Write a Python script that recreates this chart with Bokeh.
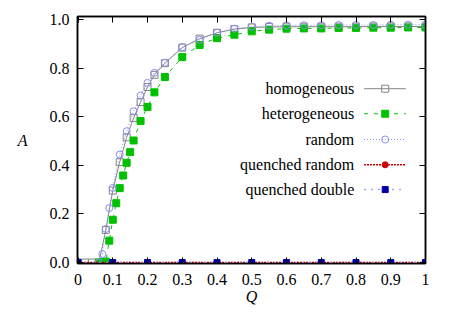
from bokeh.plotting import figure
from bokeh.models import Range1d, LinearAxis, FixedTicker
from bokeh.core.properties import value
from bokeh.embed import file_html
from bokeh.resources import INLINE

# ---------------- data ----------------
hom_q = [0.0, 0.02, 0.04, 0.06, 0.08, 0.10, 0.12, 0.14, 0.16, 0.18, 0.20, 0.22, 0.25,
         0.30, 0.35, 0.40, 0.45, 0.50, 0.55, 0.60, 0.65, 0.70, 0.75, 0.80, 0.85, 0.90, 0.95, 1.00]
hom_a = [0.0, 0.0, 0.0, 0.0, 0.134, 0.296, 0.413, 0.515, 0.595, 0.660, 0.722, 0.772, 0.820,
         0.884, 0.921, 0.945, 0.960, 0.967, 0.969, 0.970, 0.970, 0.970, 0.970, 0.970, 0.971, 0.971, 0.971, 0.971]

het_q = [0.06, 0.07, 0.08, 0.09, 0.10, 0.11, 0.12, 0.13, 0.14, 0.15, 0.16, 0.18, 0.20, 0.22, 0.25,
         0.30, 0.35, 0.40, 0.45, 0.50, 0.55, 0.60, 0.65, 0.70, 0.75, 0.80, 0.85, 0.90, 0.95, 1.00]
het_a = [0.0, 0.0, 0.004, 0.090, 0.176, 0.244, 0.306, 0.358, 0.410, 0.454, 0.502, 0.582, 0.640, 0.700, 0.763,
         0.845, 0.895, 0.923, 0.937, 0.951, 0.958, 0.962, 0.963, 0.963, 0.965, 0.965, 0.966, 0.966, 0.967, 0.967]

rnd_q = [0.06, 0.07, 0.08, 0.09, 0.10, 0.12, 0.14, 0.16, 0.18, 0.20, 0.22, 0.25,
         0.30, 0.35, 0.40, 0.45, 0.50, 0.55, 0.60, 0.65, 0.70, 0.75, 0.80, 0.85, 0.90, 0.95, 1.00]
rnd_a = [0.0, 0.035, 0.138, 0.224, 0.307, 0.444, 0.540, 0.622, 0.687, 0.739, 0.780, 0.822,
         0.886, 0.916, 0.945, 0.962, 0.970, 0.974, 0.975, 0.976, 0.976, 0.977, 0.977, 0.977, 0.978, 0.978, 0.978]

qr_q = [0.0, 0.1, 0.2, 0.3, 0.4, 0.5, 0.6, 0.7, 0.8, 0.9, 1.0]
qr_a = [0.0, 0.0, 0.0, 0.0, 0.0, 0.0, 0.0, 0.0, 0.0, 0.0, 0.0]
qd_q = [0.0, 0.1, 0.2, 0.3, 0.4, 0.5, 0.6, 0.7, 0.8, 0.9, 1.0]
qd_a = [0.0, 0.0, 0.0, 0.0, 0.0, 0.0, 0.0, 0.0, 0.0, 0.0, 0.0]

x_ticks = [0, 0.1, 0.2, 0.3, 0.4, 0.5, 0.6, 0.7, 0.8, 0.9, 1.0]
x_tick_labels = ["0", "0.1", "0.2", "0.3", "0.4", "0.5", "0.6", "0.7", "0.8", "0.9", "1"]
y_ticks = [0.0, 0.2, 0.4, 0.6, 0.8, 1.0]
y_tick_labels = ["0.0", "0.2", "0.4", "0.6", "0.8", "1.0"]

x_title = "Q"
y_title = "A"
series_labels = ["homogeneous", "heterogeneous", "random", "quenched random", "quenched double"]

# ---------------- styles ----------------
FONT = "Liberation Serif"
FS = "16px"
GRAY = "#858585"
GREEN = "#00c000"
LAV = "#8c8cf0"
RED = "#d00000"
LBLUE = "#a8a8f0"
DBLUE = "#0000a8"

W, H = 455, 307
BL, BR, BT, BB = 77, 30, 16, 44

p = figure(width=W, height=H, output_backend="svg", toolbar_location=None,
           x_range=Range1d(-0.0015, 1.0), y_range=Range1d(-0.004, 1.012),
           min_border_left=BL, min_border_right=BR, min_border_top=BT, min_border_bottom=BB,
           x_axis_location=None, y_axis_location=None)
p.grid.visible = False
p.outline_line_color = "black"
p.outline_line_width = 1.5
p.background_fill_color = "white"
p.border_fill_color = "white"

def style_axis(ax, ticks, labels, show):
    ax.ticker = FixedTicker(ticks=ticks)
    ax.major_label_overrides = {t: (l if show else "") for t, l in zip(ticks, labels)}
    ax.major_tick_in = 6
    ax.major_tick_out = 0
    ax.minor_tick_line_color = None
    ax.axis_line_width = 1.5
    ax.major_tick_line_width = 1
    ax.major_label_text_font = FONT
    ax.major_label_text_font_size = FS if show else "0px"
    ax.major_label_text_color = "black"
    ax.axis_label_text_font = FONT
    ax.axis_label_text_font_size = FS
    ax.axis_label_text_font_style = "italic"
    ax.axis_label_text_color = "black"

xb = LinearAxis(axis_label=x_title); style_axis(xb, x_ticks, x_tick_labels, True)
xb.major_label_standoff = 10
xb.axis_label_standoff = 0
yl = LinearAxis(axis_label=y_title); style_axis(yl, y_ticks, y_tick_labels, True)
yl.major_label_standoff = 8
yl.axis_label_standoff = 19
if "axis_label_orientation" in yl.properties():
    yl.axis_label_orientation = "horizontal"
xt = LinearAxis(); style_axis(xt, x_ticks, x_tick_labels, False)
yr = LinearAxis(); style_axis(yr, y_ticks, y_tick_labels, False)
p.add_layout(xb, "below")
p.add_layout(yl, "left")
p.add_layout(xt, "above")
p.add_layout(yr, "right")

# ---------------- series ----------------
p.line(hom_q, hom_a, line_color=GRAY, line_width=1)
p.scatter(hom_q, hom_a, marker="square", size=7, fill_color=None, line_color=GRAY, line_width=1)

p.line(het_q, het_a, line_color=GREEN, line_width=1, line_dash="4 6")
p.scatter(het_q, het_a, marker="square", size=7, fill_color=GREEN, line_color=GREEN)

p.line(rnd_q, rnd_a, line_color=LAV, line_width=1, line_dash="1 2")
p.scatter(rnd_q, rnd_a, marker="circle", size=7, fill_color=None, line_color=LAV, line_width=1)

p.line(qr_q, qr_a, line_color=RED, line_width=1.5, line_dash="2 1")
p.scatter(qr_q, qr_a, marker="circle", size=6, fill_color=RED, line_color=RED)

p.line(qd_q, qd_a, line_color=LBLUE, line_width=1.5, line_dash="2 5")
p.scatter(qd_q, qd_a, marker="square", size=6, fill_color=DBLUE, line_color=DBLUE)

# ---------------- legend (gnuplot style: text right-aligned, sample on right) ----------------
leg_text_x = 0.795
leg_x0, leg_x1, leg_xm = 0.823, 0.943, 0.884
leg_y = [0.715, 0.612, 0.506, 0.402, 0.300]
styles = [
    dict(lc=GRAY, dash="solid", lw=1, mk="square", fc=None, mc=GRAY, ms=7),
    dict(lc=GREEN, dash="4 6", lw=1, mk="square", fc=GREEN, mc=GREEN, ms=7),
    dict(lc=LAV, dash="1 2", lw=1, mk="circle", fc=None, mc=LAV, ms=7),
    dict(lc=RED, dash="2 1", lw=1.5, mk="circle", fc=RED, mc=RED, ms=6),
    dict(lc=LBLUE, dash="2 5", lw=1.5, mk="square", fc=DBLUE, mc=DBLUE, ms=6),
]
p.text(x=[leg_text_x] * len(series_labels), y=leg_y, text=series_labels,
       text_font=value(FONT), text_font_size=FS, text_align="right", text_baseline="middle",
       text_color="black")
for yy, st in zip(leg_y, styles):
    p.line([leg_x0, leg_x1], [yy, yy], line_color=st["lc"], line_dash=st["dash"], line_width=st["lw"])
    p.scatter([leg_xm], [yy], marker=st["mk"], size=st["ms"], fill_color=st["fc"],
              line_color=st["mc"], line_width=1)

open("out.html", "w").write(file_html(p, INLINE))
